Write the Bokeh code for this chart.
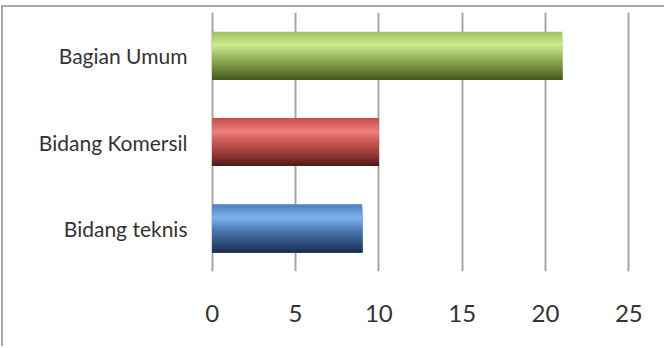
from bokeh.plotting import figure
from bokeh.models import ColumnDataSource, Range1d, FactorRange, FixedTicker
from bokeh.transform import dodge
from bokeh.embed import file_html
from bokeh.resources import INLINE

categories = ["Bidang teknis", "Bidang Komersil", "Bagian Umum"]
values = [9, 10, 21]
x_ticks = [0, 5, 10, 15, 20, 25]

# gradient stops per bar (top -> bottom), Excel-like shaded fill
stops = {
    "Bidang teknis": [(0.0, "#4b7cbd"), (0.28, "#7db2f0"), (0.55, "#4a78b2"), (0.8, "#30507e"), (1.0, "#1b2d4d")],
    "Bidang Komersil": [(0.0, "#c24f4c"), (0.28, "#f17f7c"), (0.55, "#c0504d"), (0.8, "#8a3432"), (1.0, "#4c1919")],
    "Bagian Umum": [(0.0, "#9dc05d"), (0.28, "#cbec90"), (0.55, "#94b358"), (0.8, "#6a853b"), (1.0, "#42551f")],
}


def hex2rgb(h):
    return tuple(int(h[i:i + 2], 16) for i in (1, 3, 5))


def interp(st, t):
    for (t0, c0), (t1, c1) in zip(st[:-1], st[1:]):
        if t0 <= t <= t1:
            f = (t - t0) / (t1 - t0) if t1 > t0 else 0
            a, b = hex2rgb(c0), hex2rgb(c1)
            return "#%02x%02x%02x" % tuple(int(round(a[k] + (b[k] - a[k]) * f)) for k in range(3))
    return st[-1][1]


N = 28
BAR_H = 0.556
data = {"cat": categories, "val": values}
for i in range(N):
    t = (i + 0.5) / N
    data["c%d" % i] = [interp(stops[c], t) for c in categories]
src = ColumnDataSource(data)

p = figure(width=663, height=341,
           y_range=FactorRange(*categories), x_range=Range1d(-0.1, 25.1),
           output_backend="svg", toolbar_location=None,
           min_border_left=207, min_border_right=36, min_border_top=5, min_border_bottom=77)
p.styles = {"margin-top": "5px", "margin-left": "1px",
            "border-top": "2px solid #a9a9a9", "border-left": "2px solid #a9a9a9"}
p.outline_line_color = None
p.background_fill_color = "white"
p.border_fill_color = "white"

strip = BAR_H / N
for i in range(N):
    # each layer spans from its own top edge down to the bar bottom; later layers overlay
    top = BAR_H / 2 - i * strip
    bottom = -BAR_H / 2
    h = top - bottom
    off = (top + bottom) / 2
    p.hbar(y=dodge("cat", off, range=p.y_range), left=0, right="val", height=h,
           source=src, fill_color="c%d" % i, line_color=None)

p.xgrid.ticker = FixedTicker(ticks=x_ticks)
p.xgrid.grid_line_color = "#a6a6a6"
p.xgrid.grid_line_width = 2
p.ygrid.grid_line_color = None
p.xgrid.level = "underlay"

p.xaxis.ticker = FixedTicker(ticks=x_ticks)
p.xaxis.axis_line_color = None
p.xaxis.major_tick_line_color = None
p.xaxis.minor_tick_line_color = None
p.xaxis.major_label_text_font = "Lato"
p.xaxis.major_label_text_font_size = "24px"
p.xaxis.major_label_text_color = "#333333"
p.xaxis.major_label_standoff = 27

p.yaxis.axis_line_color = None
p.yaxis.major_tick_line_color = None
p.yaxis.minor_tick_line_color = None
p.yaxis.major_label_text_font = "Lato"
p.yaxis.major_label_text_font_size = "21px"
p.yaxis.major_label_text_color = "#333333"
p.yaxis.major_label_standoff = 17

open("out.html", "w").write(file_html(p, INLINE))
